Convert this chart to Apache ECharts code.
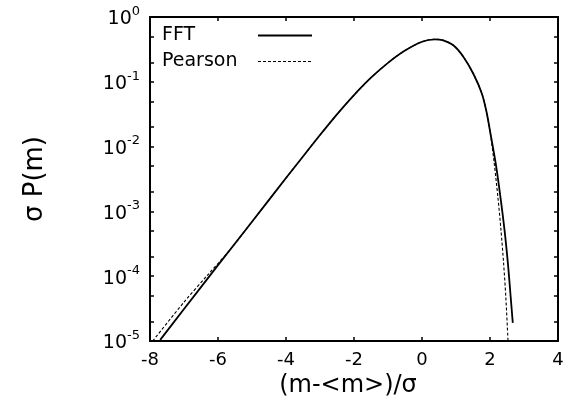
<!DOCTYPE html>
<html>
<head>
<meta charset="utf-8">
<script src="https://cdn.jsdelivr.net/npm/echarts@6/dist/echarts.min.js"></script>
<style>
  html, body { margin: 0; padding: 0; background: #fff; }
  #chart { width: 574px; height: 413px; }
</style>
</head>
<body>
<div id="chart"></div>
<script>
// values
const fftX = [-7.70, -7.0, -6.0, -5.0, -4.0, -3.5, -3.0, -2.5, -2.0, -1.5, -1.0, -0.5, 0.0, 0.38, 0.60, 0.92, 1.22, 1.51, 1.76, 1.90, 2.00, 2.17, 2.31, 2.43, 2.53, 2.60, 2.67];
const fftY = [1.04e-5, 3.11e-5, 1.48e-4, 6.93e-4, 3.27e-3, 7.05e-3, 1.51e-2, 3.15e-2, 6.24e-2, 0.1156, 0.196, 0.303, 0.415, 0.453, 0.440, 0.366, 0.242, 0.133, 0.066, 0.0339, 0.0174, 5.4e-3, 1.62e-3, 5.0e-4, 1.51e-4, 5.4e-5, 1.9e-5];

const pearsonX = [-7.92, -7.0, -6.3, -5.65, -5.0, -4.0, -3.5, -3.0, -2.5, -2.0, -1.5, -1.0, -0.5, 0.0, 0.38, 0.60, 0.92, 1.22, 1.51, 1.76, 1.90, 2.00, 2.12, 2.23, 2.32, 2.40, 2.465, 2.53];
const pearsonY = [1.0e-5, 3.98e-5, 1.05e-4, 2.54e-4, 6.93e-4, 3.27e-3, 7.05e-3, 1.51e-2, 3.15e-2, 6.24e-2, 0.1156, 0.196, 0.303, 0.415, 0.453, 0.440, 0.366, 0.242, 0.133, 0.066, 0.0339, 0.0174, 5.75e-3, 1.7e-3, 5.37e-4, 1.58e-4, 4.8e-5, 1.0e-5];

const yLabelValues = [1e-5, 1e-4, 1e-3, 1e-2, 1e-1, 1];
const yTickValues = [1e-5, 2e-5, 5e-5, 1e-4, 2e-4, 5e-4, 1e-3, 2e-3, 5e-3, 1e-2, 2e-2, 5e-2, 1e-1, 2e-1, 5e-1, 1];
const legendNames = ['FFT', 'Pearson'];

const font = 'DejaVu Sans';
const pairs = (xs, ys) => xs.map((x, i) => [x, ys[i]]);

const chart = echarts.init(document.getElementById('chart'));

const xAxisBase = {
  type: 'value',
  min: -8,
  max: 4,
  interval: 2,
  splitLine: { show: false },
  axisLine: { onZero: false, lineStyle: { color: '#000', width: 2 } },
  axisTick: { inside: true, length: 4, lineStyle: { color: '#000', width: 1.5 } },
};

const yAxisBase = {
  type: 'log',
  logBase: 10,
  min: 1e-5,
  max: 1,
  splitLine: { show: false },
  axisLine: { show: true, onZero: false, lineStyle: { color: '#000', width: 2 } },
  axisTick: { inside: true, length: 4, customValues: yTickValues, lineStyle: { color: '#000', width: 1.5 } },
};

// gnuplot style key: text on the left, line sample on the right
const keyGraphic = legendNames.map((name, i) => ({
  type: 'group',
  left: 162,
  top: 26 + i * 26,
  children: [
    { type: 'text', x: 0, y: 0, style: { text: name, font: '19px "DejaVu Sans"', fill: '#000' } },
    {
      type: 'line',
      shape: { x1: 96, y1: 9.5, x2: 150, y2: 9.5 },
      style: i === 0 ? { stroke: '#000', lineWidth: 1.8 } : { stroke: '#000', lineWidth: 1.1, lineDash: [3, 2] },
    },
  ],
}));

chart.setOption({
  animation: false,
  backgroundColor: '#fff',
  grid: { left: 150, right: 16, top: 17, bottom: 72 },
  graphic: keyGraphic,
  xAxis: [
    Object.assign({}, xAxisBase, {
      position: 'bottom',
      name: '(m-<m>)/σ',
      nameLocation: 'middle',
      nameGap: 28,
      nameTextStyle: { fontFamily: font, fontSize: 24, color: '#000', padding: [0, 12, 0, 0] },
      axisLabel: { fontFamily: font, fontSize: 18, color: '#000', margin: 10 },
    }),
    Object.assign({}, xAxisBase, { position: 'top', axisLabel: { show: false } }),
  ],
  yAxis: [
    Object.assign({}, yAxisBase, {
      position: 'left',
      name: 'σ P(m)',
      nameLocation: 'middle',
      nameRotate: 90,
      nameGap: 102,
      nameTextStyle: { fontFamily: font, fontSize: 26, color: '#000' },
      axisLabel: {
        customValues: yLabelValues,
        margin: 10,
        formatter: (v) => '{b|10}{s|' + Math.round(Math.log10(v)) + '}',
        rich: {
          b: { fontFamily: font, fontSize: 19, color: '#000', verticalAlign: 'bottom' },
          s: { fontFamily: font, fontSize: 13, color: '#000', verticalAlign: 'bottom', padding: [0, 0, 11, 0] },
        },
      },
    }),
    Object.assign({}, yAxisBase, { position: 'right', axisLabel: { show: false } }),
  ],
  series: [
    {
      name: 'FFT',
      type: 'line',
      data: pairs(fftX, fftY),
      smooth: 0.3,
      symbol: 'none',
      lineStyle: { color: '#000', width: 1.8 },
    },
    {
      name: 'Pearson',
      type: 'line',
      data: pairs(pearsonX, pearsonY),
      smooth: 0.3,
      symbol: 'none',
      lineStyle: { color: '#000', width: 1.1, type: [3, 2] },
    },
  ],
});
</script>
</body>
</html>
